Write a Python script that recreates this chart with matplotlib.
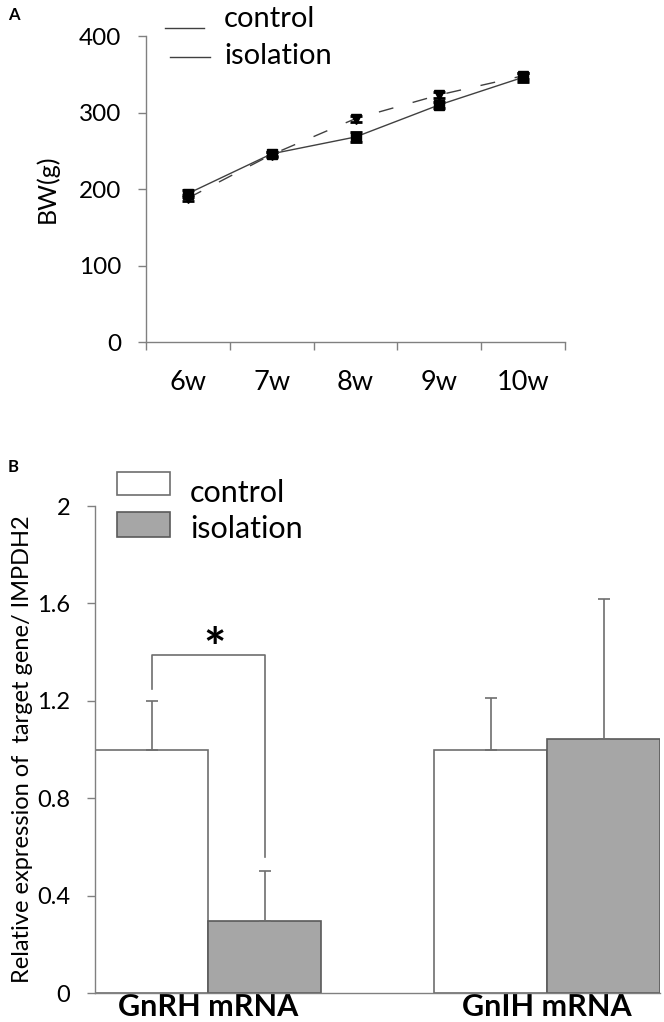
import matplotlib
matplotlib.use("Agg")
import matplotlib.pyplot as plt
from matplotlib.lines import Line2D
from matplotlib.patches import Rectangle
import numpy as np

plt.rcParams['font.family'] = ['Lato', 'DejaVu Sans']

# Panel A: body weight by week
weeks = ['6w', '7w', '8w', '9w', '10w']
bw_control = [188, 245, 292, 323, 348]
bw_control_err = [4, 3, 4, 4, 4]
bw_isolation = [194, 246, 268, 310, 346]
bw_isolation_err = [5, 3, 6, 4, 6]

# Panel B: relative expression
genes = ['GnRH mRNA', 'GnIH mRNA']
expr_control = [1.0, 1.0]
expr_control_err = [0.2, 0.21]
expr_isolation = [0.295, 1.045]
expr_isolation_err = [0.205, 0.575]

axis_grey = '#808080'
line_grey = '#404040'
bar_edge = '#6e6e6e'
iso_fill = '#a6a6a6'

W, H = 664, 1022
fig = plt.figure(figsize=(W/100, H/100), dpi=100)

def fx(px):
    return px / W

def fy(py):
    return 1 - py / H

# ---------------- Panel A ----------------
axA = fig.add_axes([fx(146), fy(342), 419/W, 306/H])
x = np.arange(len(weeks))
axA.errorbar(x, bw_control, yerr=bw_control_err, color=line_grey, lw=1.0,
             linestyle=(0, (10.8, 14.4)), marker='v', ms=7, mfc='black', mec='black',
             ecolor='black', elinewidth=1.5, capsize=4.5, capthick=2, zorder=3)
axA.errorbar(x, bw_isolation, yerr=bw_isolation_err, color=line_grey, lw=1.0,
             linestyle='-', marker='s', ms=6.5, mfc='black', mec='black',
             ecolor='black', elinewidth=1.5, capsize=4.5, capthick=2, zorder=3)
axA.set_xlim(-0.5, len(weeks)-0.5)
axA.set_ylim(0, 400)
axA.set_yticks([0, 100, 200, 300, 400])
axA.set_xticks(np.arange(len(weeks)+1) - 0.5)
axA.set_xticklabels([])
axA.set_xticks(x, minor=True)
axA.set_xticklabels(weeks, minor=True)
axA.tick_params(axis='x', which='major', direction='out', length=6, color=axis_grey, width=1)
axA.tick_params(axis='x', which='minor', length=0, pad=20, labelsize=19.5)
axA.tick_params(axis='y', direction='out', length=6, color=axis_grey, width=1,
                labelsize=17.5, pad=12)
for s in ['top', 'right']:
    axA.spines[s].set_visible(False)
for s in ['left', 'bottom']:
    axA.spines[s].set_color(axis_grey)
    axA.spines[s].set_linewidth(1)
axA.set_ylabel('BW(g)', fontsize=18, labelpad=14)

# legend A drawn by hand to match the original placement
fig.add_artist(Line2D([fx(165), fx(204)], [fy(28), fy(28)], color=line_grey, lw=1.0))
fig.add_artist(Line2D([fx(170), fx(210)], [fy(57), fy(57)], color=line_grey, lw=1.0))
fig.text(fx(224), fy(27), 'control', fontsize=21, va='baseline')
fig.text(fx(224), fy(64), 'isolation', fontsize=21, va='baseline')

fig.text(fx(8), fy(15), 'A', fontsize=12, fontweight='bold', va='center')

# ---------------- Panel B ----------------
axB = fig.add_axes([fx(95), fy(993), 565/W, 487/H])
pos = np.array([1.0, 4.0])
axB.bar(pos-0.5, expr_control, width=1.0, color='white', edgecolor=bar_edge, lw=1.2,
        yerr=[[0, 0], expr_control_err], error_kw=dict(ecolor=bar_edge, elinewidth=1.2,
        capsize=4.5, capthick=1.2), zorder=2)
axB.bar(pos+0.5, expr_isolation, width=1.0, color=iso_fill, edgecolor='#5a5a5a', lw=1.2,
        yerr=[[0, 0], expr_isolation_err], error_kw=dict(ecolor=bar_edge, elinewidth=1.2,
        capsize=4.5, capthick=1.2), zorder=2)
axB.set_xlim(0, 5)
axB.set_ylim(0, 2)
axB.set_yticks([0, 0.4, 0.8, 1.2, 1.6, 2])
axB.set_yticklabels(['0', '0.4', '0.8', '1.2', '1.6', '2'])
axB.set_xticks(pos)
axB.set_xticklabels(genes, fontweight='bold', fontsize=22)
axB.tick_params(axis='x', length=0, pad=0)
axB.tick_params(axis='y', direction='out', length=6, color=axis_grey, width=1,
                labelsize=17, pad=12)
for s in ['top', 'right']:
    axB.spines[s].set_visible(False)
for s in ['left', 'bottom']:
    axB.spines[s].set_color(axis_grey)
    axB.spines[s].set_linewidth(1)
axB.set_ylabel('Relative expression of  target gene/ IMPDH2', fontsize=17, labelpad=3)

# significance bracket between GnRH control and isolation
c_top = expr_control[0] + expr_control_err[0]
i_top = expr_isolation[0] + expr_isolation_err[0]
bracket_y = 1.39
axB.plot([pos[0]-0.5, pos[0]-0.5, pos[0]+0.5, pos[0]+0.5],
         [c_top+0.05, bracket_y, bracket_y, i_top+0.06], color=bar_edge, lw=1.2)
axB.text(pos[0]+0.06, 1.34, '*', ha='center', va='baseline', fontsize=38,
         fontweight='bold')

# legend B drawn by hand
fig.add_artist(Rectangle((fx(117), fy(495)), 53/W, 23/H, facecolor='white',
                         edgecolor=bar_edge, lw=1.2))
fig.add_artist(Rectangle((fx(117), fy(537)), 53/W, 25/H, facecolor=iso_fill,
                         edgecolor='#5a5a5a', lw=1.2))
fig.text(fx(190), fy(502), 'control', fontsize=22, va='baseline')
fig.text(fx(190), fy(538), 'isolation', fontsize=22, va='baseline')

fig.text(fx(8), fy(467), 'B', fontsize=12, fontweight='bold', va='center')

fig.savefig('out.png', dpi=100)
